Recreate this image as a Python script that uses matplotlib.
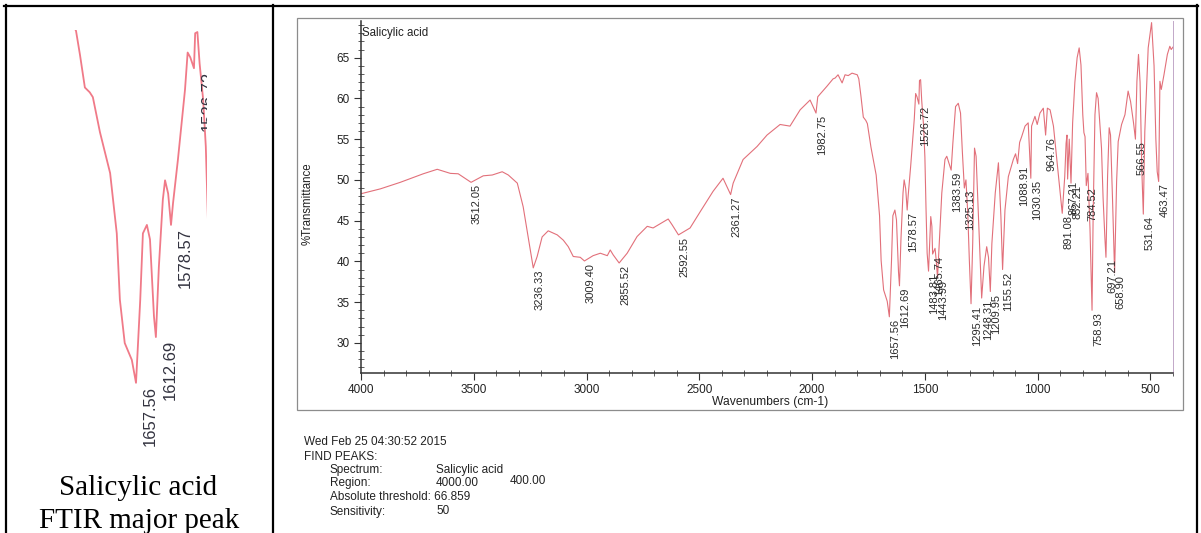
import numpy as np
import matplotlib.pyplot as plt
from matplotlib.ticker import MultipleLocator
from matplotlib.patches import Rectangle
from matplotlib.lines import Line2D

plt.rcParams['font.family'] = ['Liberation Sans', 'DejaVu Sans']

# FTIR spectrum of salicylic acid: wavenumber (cm-1) and %T
wavenumber = [
    4000, 3914, 3826, 3724, 3662, 3604, 3569, 3512.05, 3458, 3418, 3374, 3347,
    3307, 3281, 3259, 3236.33, 3219, 3197, 3170, 3130, 3103, 3081, 3059, 3028,
    3009.40, 2971, 2939, 2908, 2895, 2882, 2855.52, 2820, 2776, 2731, 2705,
    2638, 2621, 2592.55, 2541, 2496, 2439, 2395, 2361.27, 2350, 2306, 2244,
    2200, 2142, 2098, 2053, 2009, 1982.75, 1975, 1934, 1907, 1898, 1885, 1867,
    1854, 1840, 1823, 1800, 1793, 1784, 1773, 1762, 1755, 1739, 1716, 1701,
    1694, 1683, 1667, 1657.56, 1648, 1642, 1633, 1626, 1617, 1612.69, 1606,
    1597, 1592, 1585, 1578.57, 1574, 1563, 1554, 1547, 1541, 1535, 1526.72,
    1524, 1519, 1514, 1506, 1500, 1495, 1490, 1483.81, 1474, 1469, 1465.74,
    1455, 1450, 1443.99, 1425, 1411, 1403, 1383.59, 1376, 1364, 1352, 1342,
    1334, 1325.13, 1318, 1310, 1303, 1295.41, 1288, 1280, 1273, 1261, 1248.31,
    1238, 1226, 1218, 1209.95, 1203, 1188, 1174, 1163, 1155.52, 1145, 1130,
    1108, 1098, 1088.91, 1080, 1071, 1056, 1042, 1030.35, 1027, 1012, 1002,
    990, 975, 964.76, 957, 945, 930, 915, 900, 891.08, 880, 874, 870, 867.21,
    860, 852.21, 845, 835, 825, 816, 808, 800, 795, 790, 784.52, 777, 768,
    758.93, 754, 746, 739, 732, 717, 710, 702, 697.21, 690, 683, 677, 668,
    658.90, 650, 643, 628, 613, 599, 588, 575, 566.55, 560, 553, 546, 538,
    531.64, 525, 510, 495, 484, 476, 470, 463.47, 458, 452, 440, 425, 414,
    408, 400,
]
transmittance = [
    48.3, 48.9, 49.7, 50.75, 51.3, 50.8, 50.75, 49.7, 50.5, 50.6, 51.0, 50.6,
    49.6, 46.7, 43.0, 39.2, 40.6, 43.0, 43.75, 43.25, 42.6, 41.8, 40.6, 40.5,
    40.05, 40.7, 41.0, 40.7, 41.4, 40.8, 39.8, 41.0, 43.05, 44.3, 44.1,
    45.2, 44.5, 43.25, 44.1, 46.1, 48.6, 50.2, 48.2, 49.6, 52.5, 54.1,
    55.5, 56.8, 56.6, 58.6, 59.8, 58.2, 60.2, 61.5, 62.4, 62.5, 62.9, 61.9,
    62.9, 62.8, 63.1, 62.9, 62.4, 60.4, 57.7, 57.3, 56.9, 54.0, 50.6, 45.6,
    40.1, 36.5, 35.1, 33.2, 40.1, 45.6, 46.3, 45.1, 38.7, 37.0, 42.8,
    48.4, 50.0, 48.9, 46.3, 48.1, 51.7, 55.0, 57.5, 60.6, 60.2, 59.3,
    62.2, 62.3, 59.7, 56.7, 52.8, 46.5, 41.0, 38.8, 45.5, 44.3, 40.9,
    41.6, 40.2, 38.0, 48.4, 52.5, 52.9, 51.2, 54.5, 59.0, 59.4, 58.2,
    53.5, 49.0, 50.0, 46.0, 40.2, 34.8, 42.2, 53.9, 52.9, 44.3, 35.5,
    39.4, 41.8, 40.5, 36.3, 42.2, 48.4, 52.1, 45.5, 39.0, 46.3, 50.4,
    52.5, 53.2, 52.0, 54.6, 55.3, 56.6, 57.0, 50.2, 56.6, 57.8, 56.8,
    58.2, 58.8, 55.5, 58.8, 58.6, 56.6, 52.5, 48.4, 45.9, 50.4, 54.5, 55.5, 50.1,
    55.0, 49.6, 57.0, 62.0, 65.0, 66.2, 64.1, 58.0, 55.8, 55.3, 49.3, 50.8, 44.0,
    34.0, 45.7, 58.0, 60.7, 60.0, 53.9, 47.8, 42.9, 40.5, 50.5, 56.4, 55.5, 47.5,
    38.6, 49.8, 54.7, 56.8, 58.0, 60.9, 59.6, 57.0, 55.0, 62.1, 65.4, 62.0, 51.0,
    45.8, 55.9, 66.2, 69.3, 64.0, 55.0, 51.0, 49.8, 62.1, 61.1, 62.9, 65.4, 66.4,
    66.0, 66.3,
]

peak_labels = [
    '3512.05', '3236.33', '3009.40', '2855.52', '2592.55', '2361.27', '1982.75',
    '1657.56', '1612.69', '1578.57', '1526.72', '1483.81', '1465.74', '1443.99',
    '1383.59', '1325.13', '1295.41', '1248.31', '1209.95', '1155.52', '1088.91',
    '1030.35', '964.76', '891.08', '867.21', '852.21', '784.52', '758.93',
    '697.21', '658.90', '566.55', '531.64', '463.47',
]
inset_labels = ['1657.56', '1612.69', '1578.57', '1526.72']

W, H = 1201, 533
fig = plt.figure(figsize=(W / 100, H / 100), dpi=100)


def px_rect(x0, y0, x1, y1):
    return [x0 / W, 1 - y1 / H, (x1 - x0) / W, (y1 - y0) / H]


def px_line(xs, ys, **kw):
    fig.add_artist(Line2D([x / W for x in xs], [1 - y / H for y in ys],
                          transform=fig.transFigure, **kw))


def value_at(wn):
    return np.interp(wn, wavenumber[::-1], transmittance[::-1])


# table borders
for xs, ys in [((4, 1198), (6, 6)), ((6, 6), (5, 533)),
               ((273, 273), (5, 533)), ((1197, 1197), (5, 533))]:
    px_line(xs, ys, color='black', lw=1.6)

# printout frame
fig.add_artist(Rectangle((297 / W, 1 - 410 / H), (1183 - 297) / W, (410 - 18) / H,
                         fill=False, ec='#8c8c8c', lw=0.9, transform=fig.transFigure))

# main spectrum
ax = fig.add_axes(px_rect(361, 21, 1173, 373))
ax.plot(wavenumber, transmittance, color='#e2707a', lw=0.8)
ax.set_xlim(4000, 400)
ax.set_ylim(26.3, 69.5)
ax.spines['top'].set_visible(False)
ax.spines['right'].set_color('#c2a8c8')
ax.spines['right'].set_linewidth(0.7)
for s in ('left', 'bottom'):
    ax.spines[s].set_color('#333333')
    ax.spines[s].set_linewidth(1.1)
ax.xaxis.set_major_locator(MultipleLocator(500))
ax.xaxis.set_minor_locator(MultipleLocator(100))
ax.yaxis.set_major_locator(MultipleLocator(5))
ax.yaxis.set_minor_locator(MultipleLocator(1))
ax.tick_params(which='major', direction='out', length=5, width=0.8,
               labelsize=8.5, color='#333333', labelcolor='#222222', pad=3)
ax.tick_params(which='minor', direction='inout', length=4, width=0.6,
               color='#444444')

ax.set_xlabel('Wavenumbers (cm-1)', fontsize=8.7, color='#222222')
ax.xaxis.label.set_va('center')
ax.xaxis.set_label_coords((770 - 361) / 812, -29 / 352)
ax.set_ylabel('%Transmittance', fontsize=8.3, color='#222222')
ax.yaxis.label.set_va('center')
ax.yaxis.set_label_coords((308 - 361) / 812, (373 - 204) / 352)

for lab in peak_labels:
    wn = float(lab)
    ax.annotate(lab, (wn, value_at(wn)), xytext=(1, -2), textcoords='offset pixels',
                rotation=90, ha='left', va='top', fontsize=8, color='#2b2b2b')

fig.text(362 / W, 1 - 33 / H, 'Salicylic acid', fontsize=8.3, ha='left',
         va='center', color='#222222')

# magnified carbonyl region in the left cell
inset = fig.add_axes(px_rect(73, 30, 207, 460))
inset.axis('off')
inset.plot(wavenumber, transmittance, color='#f07a88', lw=1.3)
inset.set_xlim(1799.8, 1497.3)
inset.set_ylim(26.8, 62.47)
for lab in inset_labels:
    wn = float(lab)
    inset.annotate(lab, (wn, value_at(wn)), xytext=(7, -3), textcoords='offset pixels',
                   rotation=90, ha='left', va='top', fontsize=12, color='#333340',
                   clip_on=True)

fig.text(138 / W, 1 - 495 / H, 'Salicylic acid', family='Liberation Serif',
         fontsize=21, ha='center', va='baseline')
fig.text(139 / W, 1 - 528 / H, 'FTIR major peak', family='Liberation Serif',
         fontsize=21, ha='center', va='baseline')

# peak-search report
report = [
    (304, 442, 'Wed Feb 25 04:30:52 2015'),
    (304, 457, 'FIND PEAKS:'),
    (330, 470, 'Spectrum:'), (436, 470, 'Salicylic acid'),
    (330, 483, 'Region:'), (436, 483, '4000.00'), (510, 481, '400.00'),
    (330, 497, 'Absolute threshold: 66.859'),
    (330, 512, 'Sensitivity:'), (436, 511, '50'),
]
for x, y, s in report:
    fig.text(x / W, 1 - y / H, s, fontsize=8.5, ha='left', va='center',
             color='#222222')

fig.savefig('out.png', dpi=100)
